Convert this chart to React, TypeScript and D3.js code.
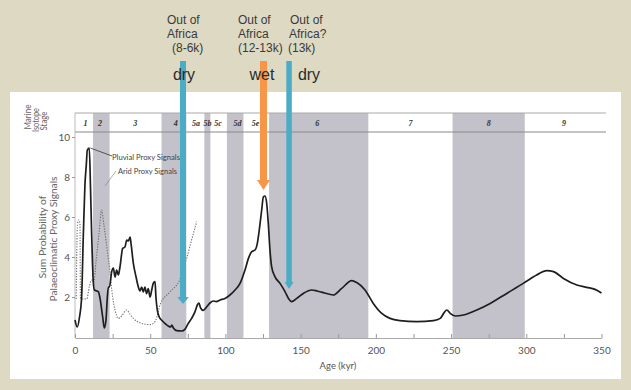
import React, { useEffect, useRef } from 'react';
import * as d3 from 'd3';

const W = 631;
const H = 390;

// marine isotope stages (labels in the strip, ages in kyr)
const stageLabels = ['1', '2', '3', '4', '5a', '5b', '5c', '5d', '5e', '6', '7', '8', '9'];
const stageAges = [7, 16.6, 40, 67, 80.5, 88, 95, 108, 120, 161, 223, 275, 325];

// shaded (glacial) stages, kyr
const shadedStart = [12, 57.5, 86, 101, 129, 251];
const shadedEnd = [23, 74, 90, 112, 195, 299];

// pluvial proxy signals (solid line)
const pluvialAge = [
  0, 1.5, 3, 4.4, 5.5, 6.6, 7.5, 8.2, 9.5, 10.3, 11, 12.2, 12.9, 15.5, 16.6, 18.4, 19.5, 20.6,
  21.5, 22.2, 22.9, 24.4, 25.5, 26.6, 27.7, 28.8, 29.9, 31.7, 33.2, 34.4, 35.5, 36.6, 37.2, 38.8,
  40.6, 42.1, 43.2, 44.3, 45.4, 46.5, 47.6, 48.7, 49.9, 51, 52, 53.2, 53.8, 54.7, 56, 57.5, 59.8,
  62, 63.6, 64.3, 65.4, 67.6, 71, 73, 75.3, 77.5, 79.8, 81.3, 82.4, 83.5, 85.3, 87.5, 89.7, 92,
  93.8, 96.5, 99.7, 103, 106.4, 109.7, 113, 115.3, 117.5, 119.7, 121.2, 122.5, 124.1, 125.2, 126.3,
  127.4, 128.5, 129.6, 130.7, 132.9, 136.3, 139.6, 141.9, 144, 147.4, 151.8, 157.4, 161, 165.1,
  171.7, 177.3, 184, 187.3, 192.8, 198.3, 203.9, 209.4, 216, 227.2, 238.3, 242.8, 245.4, 247.2,
  249.4, 252.7, 258.2, 267.1, 276, 287, 298, 306.9, 313.6, 318.1, 324.7, 333.6, 340.2, 345.7, 350,
];
const pluvialValue = [
  0.85, 0.5, 1.0, 2.0, 5.0, 7.6, 8.6, 9.35, 9.45, 7.5, 5.35, 2.7, 2.35, 2.27, 1.95, 1.0, 0.45, 0.85,
  2.0, 2.5, 2.5, 3.27, 3.45, 3.0, 3.35, 3.1, 3.5, 4.43, 4.5, 4.85, 4.8, 5.0, 4.7, 3.68,
  3.0, 2.5, 2.3, 2.5, 2.25, 2.5, 2.17, 2.42, 2.0, 2.35, 2.68, 2.77, 2.0, 1.35, 1.0, 0.85, 0.68,
  0.55, 0.5, 0.6, 0.45, 0.32, 0.3, 0.38, 0.68, 0.93, 1.27, 1.6, 1.7, 1.45, 1.33, 1.5, 1.7, 1.8,
  1.77, 1.85, 1.93, 2.1, 2.35, 2.68, 3.35, 3.93, 4.27, 4.35, 4.68, 5.35, 6.35, 7.0, 7.05,
  6.7, 5.68, 4.35, 3.52, 3.02, 2.68, 2.27, 1.93, 1.77, 1.93, 2.18, 2.35, 2.3, 2.22,
  2.1, 2.43, 2.82, 2.72, 2.35, 1.68, 1.18, 0.93, 0.82, 0.77, 0.82, 0.93, 1.22, 1.35,
  1.18, 1.05, 1.1, 1.35, 1.68, 2.18, 2.68, 3.1, 3.32, 3.27, 2.93, 2.6, 2.48, 2.38, 2.2,
];

// arid proxy signals (dotted line)
const aridAge = [
  0.8, 1.6, 2.4, 3.3, 3.6, 5, 7.8, 9.5, 11, 12.5, 14, 16, 17.7, 19.2, 21, 23.3, 25, 26.6, 28.8,
  31, 34.3, 36.5, 38.8, 44.3, 50, 53.2, 55.5, 56.5, 63, 69.8, 71, 74.2, 77.5, 80.9,
];
const aridValue = [
  1.9, 5.6, 5.85, 5.7, 1.95, 1.9, 1.9, 2.5, 2.85, 2.75, 3.8, 5.2, 6.35, 5.6, 4.6, 3.2, 2.0, 1.35, 0.93,
  1.05, 1.35, 1.15, 0.93, 0.68, 0.62, 0.77, 1.3, 1.6, 2.25, 2.9, 3.3, 3.93, 4.85, 5.77,
];

const xTicks = [0, 25, 50, 75, 100, 125, 150, 175, 200, 225, 250, 275, 300, 325, 350];
const yTicks = [2, 4, 6, 8, 10];

// Out of Africa arrows: age (kyr) and the value the head points at
const arrowAge = [71.8, 125.3, 142.3];
const arrowTip = [1.65, 7.35, 2.4];
const arrowColors = ['#4bacc6', '#f79646', '#4bacc6'];
const arrowText = [
  ['Out of', 'Africa', '(8-6k)'],
  ['Out of', 'Africa', '(12-13k)'],
  ['Out of', 'Africa?', '(13k)'],
];
const arrowWord = ['dry', 'wet', 'dry'];

export default function App() {
  const ref = useRef<SVGSVGElement>(null);

  useEffect(() => {
    const svg = d3.select(ref.current);
    svg.selectAll('*').remove();

    svg.append('rect').attr('width', W).attr('height', H).attr('fill', '#ddd9c3');
    svg.append('rect').attr('x', 10).attr('y', 92).attr('width', 611).attr('height', 287).attr('fill', '#fff');

    var x = d3.scaleLinear().domain([0, 350]).range([75, 601.5]);
    var y = d3.scaleLinear().domain([0, 10]).range([337, 137]);
    var top = 113, stripBottom = 132, base = 338;

    // shaded stages
    svg.append('g').selectAll('rect')
      .data(shadedStart)
      .enter().append('rect')
      .attr('x', d => x(d))
      .attr('width', (d, i) => x(shadedEnd[i]) - x(d))
      .attr('y', top)
      .attr('height', base - top)
      .attr('fill', '#c3c2ca');

    // isotope stage strip
    svg.append('line').attr('x1', 75).attr('x2', 606).attr('y1', top).attr('y2', top)
      .attr('stroke', '#aaa').attr('stroke-width', 1);
    svg.append('line').attr('x1', 75).attr('x2', 606).attr('y1', stripBottom).attr('y2', stripBottom)
      .attr('stroke', '#8a8a8a').attr('stroke-width', 1.2);
    svg.append('g').selectAll('text')
      .data(stageLabels)
      .enter().append('text')
      .attr('x', (d, i) => x(stageAges[i]))
      .attr('y', 126)
      .attr('text-anchor', 'middle')
      .attr('font-family', 'Liberation Serif')
      .attr('font-style', 'italic')
      .attr('font-weight', 'bold')
      .attr('font-size', 8)
      .attr('fill', '#333')
      .text(d => d);

    // axes
    svg.append('line').attr('x1', 75).attr('x2', 75).attr('y1', top).attr('y2', base)
      .attr('stroke', '#bbb');
    var xAxis = svg.append('g')
      .attr('transform', 'translate(0,' + base + ')')
      .call(d3.axisBottom(x)
        .tickValues(xTicks)
        .tickSize(-4)
        .tickSizeOuter(0)
        .tickFormat(d => (+d % 50 === 0 ? String(d) : '')));
    xAxis.select('.domain').attr('stroke', '#aaa');
    xAxis.selectAll('line').attr('stroke', '#999');
    xAxis.selectAll('text').attr('y', 9).attr('fill', '#555')
      .attr('font-family', 'Lato').attr('font-size', 10);

    var yAxis = svg.append('g')
      .attr('transform', 'translate(75,0)')
      .call(d3.axisLeft(y).tickValues(yTicks).tickSize(3).tickPadding(2));
    yAxis.select('.domain').remove();
    yAxis.selectAll('line').attr('stroke', '#999');
    yAxis.selectAll('text').attr('fill', '#555').attr('font-family', 'Lato').attr('font-size', 10);

    svg.append('text').attr('x', 338).attr('y', 369).attr('text-anchor', 'middle')
      .attr('font-family', 'Lato').attr('font-size', 9.5).attr('fill', '#555').text('Age (kyr)');

    // rotated titles
    var rotated = function (cx: number, cy: number, size: number, txt: string, len?: number) {
      var t = svg.append('text')
        .attr('transform', 'translate(' + (cx + size * 0.35) + ',' + cy + ') rotate(-90)')
        .attr('text-anchor', 'middle')
        .attr('font-family', 'Lato')
        .attr('font-size', size)
        .attr('fill', '#666')
        .text(txt);
      if (len) t.attr('textLength', len).attr('lengthAdjust', 'spacingAndGlyphs');
    };
    rotated(42, 237, 10, 'Sum Probability of', 83);
    rotated(53, 239, 10, 'Palaeoclimatic Proxy Signals', 125);
    rotated(28, 117, 9, 'Marine', 25);
    rotated(36, 120, 9, 'Isotope', 24);
    rotated(44, 121, 9, 'Stage', 19);

    // curves
    var line = d3.line<number>()
      .x((d, i) => x(d))
      .curve(d3.curveMonotoneX);

    svg.append('path')
      .attr('d', line.y((d, i) => y(aridValue[i]))(aridAge))
      .attr('fill', 'none')
      .attr('stroke', '#6e6e6e')
      .attr('stroke-width', 1.1)
      .attr('stroke-dasharray', '1.3,1.4');

    svg.append('path')
      .attr('d', line.y((d, i) => y(pluvialValue[i]))(pluvialAge))
      .attr('fill', 'none')
      .attr('stroke', '#1e1e1e')
      .attr('stroke-width', 1.7)
      .attr('stroke-linejoin', 'round');

    // curve labels with leaders
    var peak = d3.maxIndex(pluvialValue);
    svg.append('line')
      .attr('x1', x(pluvialAge[peak]) + 1).attr('y1', y(pluvialValue[peak]))
      .attr('x2', 112).attr('y2', 156)
      .attr('stroke', '#333').attr('stroke-width', 0.8);
    svg.append('line')
      .attr('x1', 105).attr('y1', 186).attr('x2', 116).attr('y2', 171)
      .attr('stroke', '#777').attr('stroke-width', 0.6);
    svg.append('text').attr('x', 112).attr('y', 159.5)
      .attr('font-family', 'Lato').attr('font-size', 7.5).attr('fill', '#444')
      .attr('textLength', 68).attr('lengthAdjust', 'spacingAndGlyphs')
      .text('Pluvial Proxy Signals');
    svg.append('text').attr('x', 118).attr('y', 173.5)
      .attr('font-family', 'Lato').attr('font-size', 7.5).attr('fill', '#444')
      .attr('textLength', 59).attr('lengthAdjust', 'spacingAndGlyphs')
      .text('Arid Proxy Signals');

    // arrows
    var arrowTop = 61;
    var shaftW = [6, 7, 5.5];
    var headW = [5.8, 6.5, 4.5];
    var headH = [7, 10, 7];
    arrowAge.forEach((a, i) => {
      var ax = x(a), tip = y(arrowTip[i]);
      svg.append('rect')
        .attr('x', ax - shaftW[i] / 2).attr('width', shaftW[i])
        .attr('y', arrowTop).attr('height', tip - headH[i] - arrowTop + 0.5)
        .attr('fill', arrowColors[i]);
      svg.append('path')
        .attr('d', 'M' + (ax - headW[i]) + ',' + (tip - headH[i]) +
          'L' + (ax + headW[i]) + ',' + (tip - headH[i]) +
          'L' + ax + ',' + tip + 'Z')
        .attr('fill', arrowColors[i]);
    });

    // annotation text
    var textLeft = [[167, 167, 172], [238, 238, 238], [290, 289, 288]];
    var wordX = [184, 262, 309];
    arrowText.forEach((lines, i) => {
      lines.forEach((t, j) => {
        svg.append('text')
          .attr('x', textLeft[i][j]).attr('y', 24 + j * 14)
          .attr('font-family', 'Liberation Sans').attr('font-size', 12)
          .attr('fill', '#3a3a3a')
          .text(t);
      });
      svg.append('text')
        .attr('x', wordX[i]).attr('y', 80)
        .attr('text-anchor', 'middle')
        .attr('font-family', 'Liberation Sans').attr('font-size', 16)
        .attr('fill', '#2a2a2a')
        .text(arrowWord[i]);
    });
  }, []);

  return (
    <svg ref={ref} width={W} height={H} style={{ position: 'absolute', left: 0, top: 0 }} />
  );
}
